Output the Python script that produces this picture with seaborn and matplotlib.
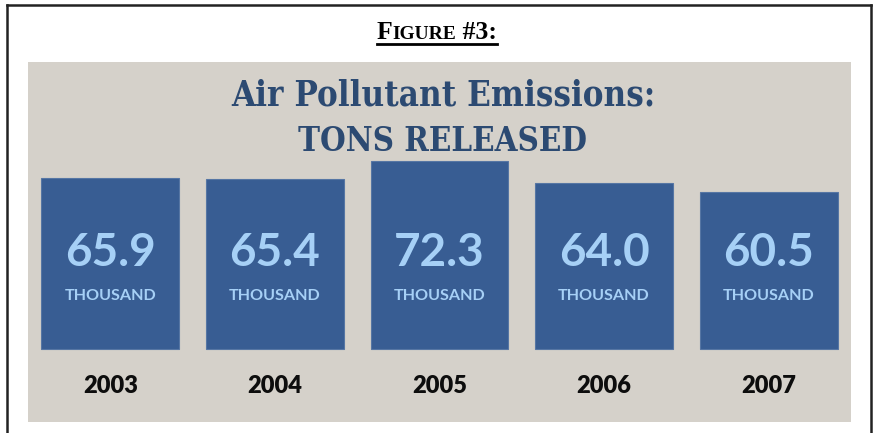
import matplotlib
matplotlib.use("Agg")
import matplotlib.pyplot as plt
import seaborn as sns
import pandas as pd
from matplotlib.lines import Line2D

# ---- data ----
years = ["2003", "2004", "2005", "2006", "2007"]
values = [65.9, 65.4, 72.3, 64.0, 60.5]
unit_label = "THOUSAND"
title_line1 = "Air Pollutant Emissions:"
title_line2 = "TONS RELEASED"
figure_label = "Figure #3:"

W, H = 877, 433
fig = plt.figure(figsize=(W / 100, H / 100), dpi=100)
fig.patch.set_facecolor("white")
renderer = fig.canvas.get_renderer()


def fx(px):
    return px / W


def fy(py):
    return 1 - py / H


PANEL = "#d5d1ca"
BAR = "#385d93"
VAL = "#a6d0f6"
TITLE = "#2c4a72"

ax = fig.add_axes([fx(28), fy(422), fx(851) - fx(28), fy(62) - fy(422)])
ax.set_facecolor(PANEL)
df = pd.DataFrame({"year": years, "value": values})
sns.barplot(data=df, x="year", y="value", color=BAR, saturation=1,
            width=0.836, edgecolor="#5676a4", linewidth=0.8, ax=ax)
scale = 2.6
ax.set_xlim(-0.5, 4.5)
ax.set_ylim(-(422 - 349) / scale, (349 - 62) / scale)
for s in ax.spines.values():
    s.set_visible(False)
ax.set_xticks([])
ax.set_yticks([])
ax.set_xlabel("")
ax.set_ylabel("")

y_val = (349 - 253) / scale
y_unit = (349 - 296) / scale
y_year = (349 - 386) / scale
for i, (yr, v) in enumerate(zip(years, values)):
    ax.text(i, y_val, f"{v:.1f}", ha="center", va="center", color=VAL,
            fontsize=33, fontweight="bold", family="Lato")
    ax.text(i, y_unit, unit_label, ha="center", va="center", color=VAL,
            fontsize=11.6, fontweight="bold", family="Lato")
    ax.text(i, y_year, yr, ha="center", va="center", color="#0d0d0d",
            fontsize=17, fontweight="heavy", family="Lato")


def fitted_text(s, xc, ybase, target_w, **kw):
    t = fig.text(fx(xc), fy(ybase), s, ha="center", va="baseline", fontsize=20, **kw)
    w = t.get_window_extent(renderer).width
    t.set_fontsize(20 * target_w / w)
    return t


# title
fitted_text(title_line1, 443, 106, 423, color=TITLE, fontweight="bold",
            family="DejaVu Serif", fontstretch="condensed")
fitted_text(title_line2, 443, 151, 289, color=TITLE, fontweight="bold",
            family="DejaVu Serif", fontstretch="condensed")

# frame
lw = 1.8
fig.add_artist(Line2D([fx(7), fx(7)], [fy(433), fy(5)], color="#222222", lw=lw, transform=fig.transFigure))
fig.add_artist(Line2D([fx(871), fx(871)], [fy(433), fy(5)], color="#222222", lw=lw, transform=fig.transFigure))
fig.add_artist(Line2D([fx(7), fx(871)], [fy(5), fy(5)], color="#222222", lw=lw, transform=fig.transFigure))

# small-caps figure label
pieces = []
for ch in figure_label:
    if ch.islower():
        size, txt = 14, ch.upper()
    else:
        size, txt = 18.5, ch
    if pieces and pieces[-1][0] == size:
        pieces[-1][1] += txt
    else:
        pieces.append([size, txt])
texts = []
widths = []
for size, txt in pieces:
    t = fig.text(0, fy(39), txt, ha="left", va="baseline", fontsize=size,
                 fontweight="bold", family="Liberation Serif", color="black")
    bb = t.get_window_extent(renderer)
    texts.append(t)
    widths.append(bb.width)
total = sum(widths)
x0 = 437 - total / 2
x = x0
for t, w in zip(texts, widths):
    t.set_x(fx(x))
    x += w
fig.add_artist(Line2D([fx(x0), fx(x0 + total)], [fy(44), fy(44)], color="black", lw=2,
                      transform=fig.transFigure))

fig.savefig("out.png", dpi=100)
